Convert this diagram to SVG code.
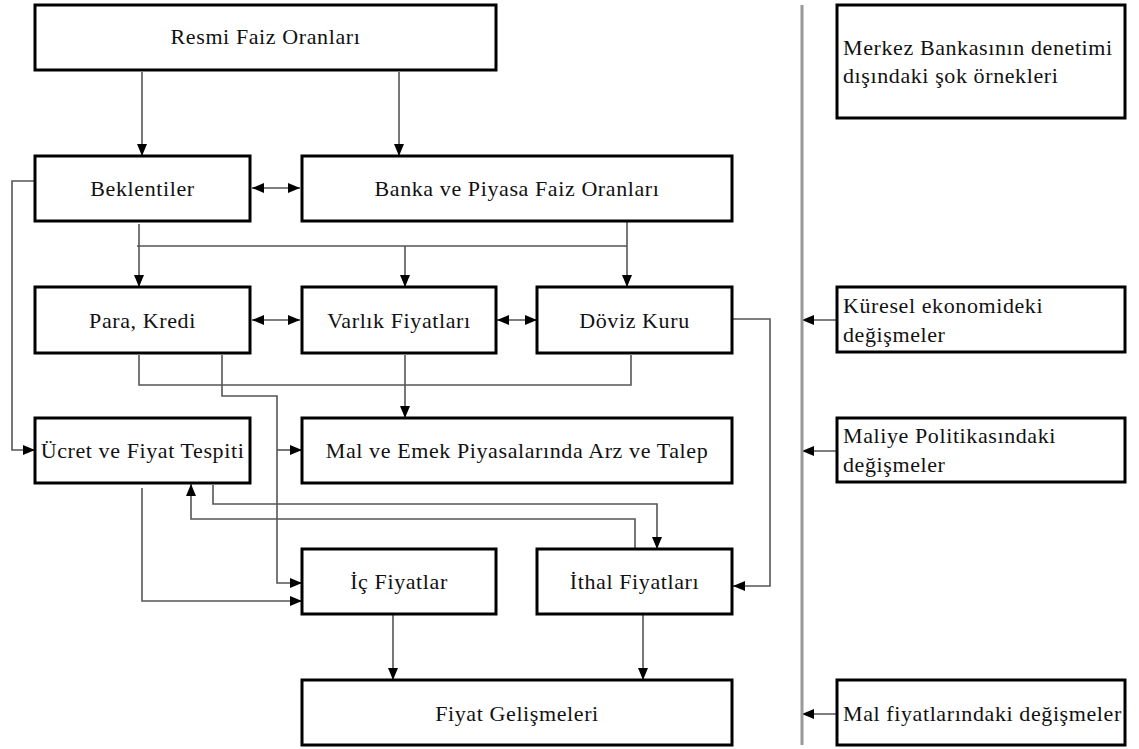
<svg xmlns="http://www.w3.org/2000/svg" width="1139" height="749" viewBox="0 0 1139 749">
<style>
  .box { fill: #fff; stroke: #000; stroke-width: 3; }
  .t { font-size: 22px; letter-spacing: 0.6px; fill: #111; }
  .c { text-anchor: middle; }
  .ln { fill: none; stroke: #555; stroke-width: 1.6; }
  .ar { marker-end: url(#ah); }
  .bi { marker-start: url(#ah); marker-end: url(#ah); }
  .div { fill: none; stroke: #999; stroke-width: 3; }
</style>
<defs>
  <marker id="ah" viewBox="0 0 12 10" refX="12" refY="5" markerWidth="12" markerHeight="10" markerUnits="userSpaceOnUse" orient="auto-start-reverse">
    <path d="M0,0 L12,5 L0,10 z" fill="#000"/>
  </marker>
</defs>
<rect width="1139" height="749" fill="#fff"/>

<g id="connectors">
  <path class="ln ar" d="M142,72 V156"/>
  <path class="ln ar" d="M399,72 V156"/>
  <path class="ln bi" d="M252,188 H300"/>
  <path class="ln ar" d="M35,181 H12 V450 H35"/>
  <path class="ln ar" d="M139,224 V287"/>
  <path class="ln" d="M137,246 H627"/>
  <path class="ln ar" d="M405,246 V287"/>
  <path class="ln ar" d="M627,222 V287"/>
  <path class="ln bi" d="M252,320 H300"/>
  <path class="ln bi" d="M497,320 H537"/>
  <path class="ln" d="M139,355 V385 H631 V355"/>
  <path class="ln ar" d="M405,355 V418"/>
  <path class="ln ar" d="M222,355 V396 H277 V583 H302"/>
  <path class="ln ar" d="M277,450 H302"/>
  <path class="ln ar" d="M142,488 V601 H302"/>
  <path class="ln ar" d="M635,549 V519 H191 V484"/>
  <path class="ln ar" d="M213,485 V504 H657 V549"/>
  <path class="ln ar" d="M733,319 H770 V586 H733"/>
  <path class="ln ar" d="M393,615 V680"/>
  <path class="ln ar" d="M643,615 V680"/>
  <path class="ln ar" d="M837,320 H802"/>
  <path class="ln ar" d="M837,451 H802"/>
  <path class="ln ar" d="M837,714 H802"/>
  <path class="div" d="M802,5 V745"/>
</g>

<g font-family="Liberation Serif, serif">
<g id="resmi"><rect class="box" x="35" y="5" width="461" height="65"/><text class="t c" x="265.5" y="44">Resmi Faiz Oranları</text></g>
<g id="beklentiler"><rect class="box" x="35" y="156" width="215" height="65"/><text class="t c" x="142.5" y="196">Beklentiler</text></g>
<g id="banka"><rect class="box" x="302" y="156" width="430" height="65"/><text class="t c" x="517" y="196">Banka ve Piyasa Faiz Oranları</text></g>
<g id="para"><rect class="box" x="35" y="287" width="215" height="66"/><text class="t c" x="142.5" y="328">Para, Kredi</text></g>
<g id="varlik"><rect class="box" x="302" y="287" width="194" height="66"/><text class="t c" x="399" y="328">Varlık Fiyatları</text></g>
<g id="doviz"><rect class="box" x="537" y="287" width="195" height="66"/><text class="t c" x="634.5" y="328">Döviz Kuru</text></g>
<g id="ucret"><rect class="box" x="35" y="418" width="215" height="65"/><text class="t c" x="142.5" y="458">Ücret ve Fiyat Tespiti</text></g>
<g id="mal-emek"><rect class="box" x="302" y="418" width="430" height="65"/><text class="t c" x="517" y="458">Mal ve Emek Piyasalarında Arz ve Talep</text></g>
<g id="ic"><rect class="box" x="302" y="549" width="194" height="65"/><text class="t c" x="399" y="589">İç Fiyatlar</text></g>
<g id="ithal"><rect class="box" x="537" y="549" width="195" height="65"/><text class="t c" x="634.5" y="589">İthal Fiyatları</text></g>
<g id="fiyat"><rect class="box" x="302" y="680" width="430" height="65"/><text class="t c" x="517" y="721">Fiyat Gelişmeleri</text></g>

<g id="merkez"><rect class="box" x="837" y="5" width="288" height="113"/><text class="t" x="843" y="55">Merkez Bankasının denetimi</text><text class="t" x="843" y="83">dışındaki şok örnekleri</text></g>
<g id="kuresel"><rect class="box" x="837" y="287" width="288" height="65"/><text class="t" x="843" y="313">Küresel ekonomideki</text><text class="t" x="843" y="342">değişmeler</text></g>
<g id="maliye"><rect class="box" x="837" y="418" width="288" height="64"/><text class="t" x="843" y="443">Maliye Politikasındaki</text><text class="t" x="843" y="472">değişmeler</text></g>
<g id="mal-fiyat"><rect class="box" x="837" y="680" width="288" height="65"/><text class="t" x="843" y="721">Mal fiyatlarındaki değişmeler</text></g>
</g>
</svg>
